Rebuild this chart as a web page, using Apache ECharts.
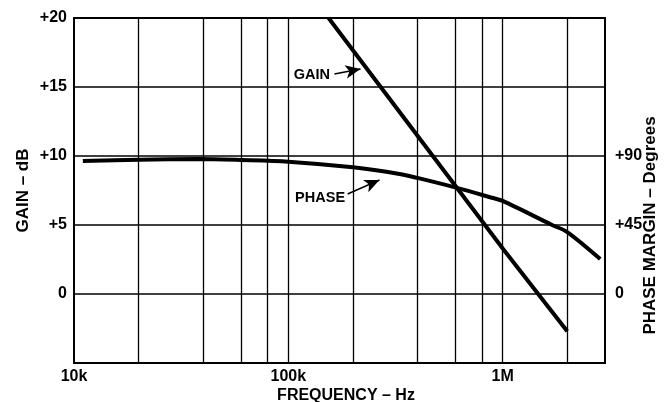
<!DOCTYPE html>
<html>
<head>
<meta charset="utf-8">
<script src="https://cdn.jsdelivr.net/npm/echarts@6/dist/echarts.min.js"></script>
<style>
    html, body { margin: 0; padding: 0; background: #fff; }
    #chart { width: 664px; height: 402px; }
</style>
</head>
<body>
<div id="chart"></div>
<script>
// gain curve: [frequency Hz, gain dB]
const gainData = [[154000, 20], [1000000, 3.3], [2000000, -2.7]];
// phase margin curve: [frequency Hz, degrees]
const phaseData = [
    [11000, 86.7], [20000, 87.6], [38000, 88.0], [60000, 87.4], [100000, 86.3],
    [200000, 82.6], [330000, 78.3], [400000, 75.7], [600000, 69.5], [900000, 62.6],
    [1000000, 60.7], [1700000, 45.0], [2000000, 40.4], [2850000, 22.8]
];
// vertical grid lines (frequencies)
const freqGrid = [20000, 40000, 60000, 80000, 100000, 200000, 400000, 600000, 800000, 1000000, 2000000];
const freqTicks = [10000, 100000, 1000000];
const freqTickLabels = ['10k', '100k', '1M'];
const gainTickLabels = { 20: '+20', 15: '+15', 10: '+10', 5: '+5', 0: '0' };
const phaseTickLabels = { 90: '+90', 45: '+45', 0: '0' };
// callouts: label position, arrow start, arrow end (freq, gain dB)
const gainCallout = { text: [128600, 15.87], from: [164000, 15.94], to: [217000, 16.3] };
const phaseCallout = { text: [140600, 6.96], from: [189000, 7.25], to: [266000, 8.26] };

const FONT = "'Liberation Sans', Arial, Helvetica, sans-serif";

const chart = echarts.init(document.getElementById('chart'));

const labelStyle = { color: '#000', fontFamily: FONT, fontWeight: 'bold', fontSize: 16 };
const nameStyle = { color: '#000', fontFamily: FONT, fontWeight: 'bold', fontSize: 17 };

const option = {
    animation: false,
    backgroundColor: '#fff',
    grid: {
        left: 74, top: 18, right: 59, bottom: 39,
        containLabel: false,
        outerBoundsMode: 'none',
        show: true, borderColor: '#000', borderWidth: 2, backgroundColor: 'transparent'
    },
    xAxis: {
        type: 'log',
        logBase: 10,
        min: 10000,
        max: 3000000,
        name: 'FREQUENCY – Hz',
        nameLocation: 'middle',
        nameGap: 25,
        nameMoveOverlap: false,
        nameTextStyle: Object.assign({}, nameStyle, { fontSize: 16, padding: [0, 0, 0, 13] }),
        axisLine: { show: false },
        axisTick: { show: false },
        splitLine: { show: false },
        axisLabel: Object.assign({
            margin: 6,
            formatter: function (v) {
                const i = freqTicks.indexOf(Math.round(v));
                return i >= 0 ? freqTickLabels[i] : '';
            }
        }, labelStyle)
    },
    yAxis: [
        {
            type: 'value',
            min: -5, max: 20, interval: 5,
            name: 'GAIN – dB',
            nameLocation: 'middle',
            nameGap: 42,
            nameMoveOverlap: false,
            nameRotate: 90,
            nameTextStyle: nameStyle,
            axisLine: { show: false },
            axisTick: { show: false },
            splitLine: { show: true, lineStyle: { color: '#000', width: 1.5 } },
            axisLabel: Object.assign({
                margin: 7,
                formatter: function (v) { return gainTickLabels[v] !== undefined ? gainTickLabels[v] : ''; }
            }, labelStyle)
        },
        {
            type: 'value',
            position: 'right',
            min: -45, max: 180, interval: 45,
            name: 'PHASE MARGIN – Degrees',
            nameLocation: 'middle',
            nameGap: 37,
            nameMoveOverlap: false,
            nameRotate: 90,
            nameTextStyle: Object.assign({ padding: [0, 70, 0, 0] }, nameStyle),
            axisLine: { show: false },
            axisTick: { show: false },
            splitLine: { show: false },
            axisLabel: Object.assign({
                margin: 10,
                formatter: function (v) { return phaseTickLabels[v] !== undefined ? phaseTickLabels[v] : ''; }
            }, labelStyle)
        }
    ],
    series: [
        {
            name: 'PHASE',
            type: 'line',
            yAxisIndex: 1,
            data: phaseData,
            smooth: 0.3,
            showSymbol: false,
            lineStyle: { color: '#000', width: 4 },
            z: 3,
            markLine: {
                silent: true,
                symbol: 'none',
                label: { show: false },
                lineStyle: { color: '#000', width: 1.3, type: 'solid' },
                data: freqGrid.map(function (f) { return { xAxis: f }; })
            }
        },
        {
            name: 'GAIN',
            type: 'line',
            data: gainData,
            showSymbol: false,
            lineStyle: { color: '#000', width: 4 },
            z: 4,
            markLine: {
                silent: true,
                symbol: ['none', 'arrow'],
                symbolSize: [10, 15],
                label: { show: false },
                lineStyle: { color: '#000', width: 1.5, type: 'solid' },
                data: [
                    [{ coord: gainCallout.from }, { coord: gainCallout.to }],
                    [{ coord: phaseCallout.from }, { coord: phaseCallout.to }]
                ]
            },
            markPoint: {
                silent: true,
                symbol: 'circle',
                symbolSize: 0,
                label: {
                    show: true, position: 'inside', color: '#000',
                    fontFamily: FONT, fontWeight: 'bold', fontSize: 14.5,
                    formatter: function (p) { return p.name; }
                },
                data: [
                    { name: 'GAIN', coord: gainCallout.text },
                    { name: 'PHASE', coord: phaseCallout.text }
                ]
            }
        }
    ]
};

chart.setOption(option);
</script>
</body>
</html>
